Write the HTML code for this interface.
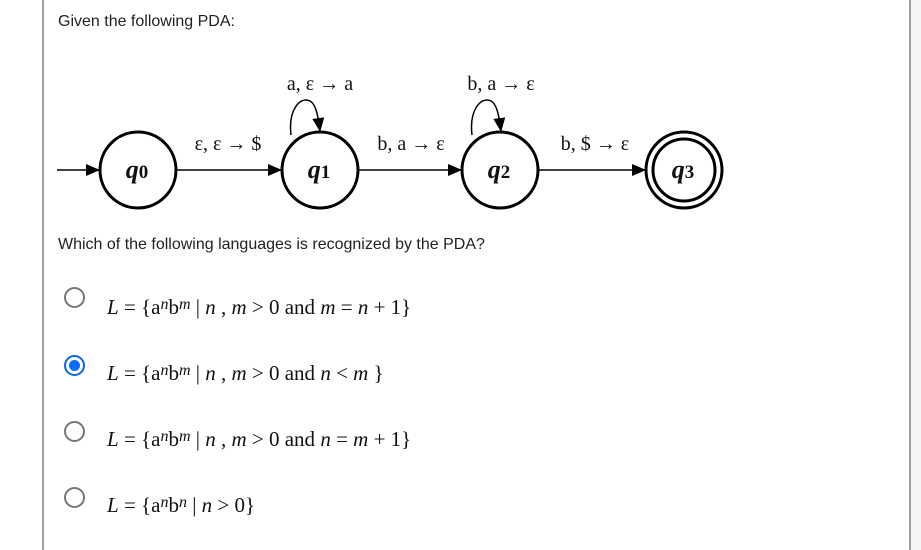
<!DOCTYPE html>
<html><head><meta charset="utf-8"><style>
html,body{margin:0;padding:0;background:#fff;width:921px;height:550px;overflow:hidden;position:relative}
.bl{position:absolute;left:42px;top:0;width:2px;height:550px;background:#a0a0a0}
.br{position:absolute;left:909px;top:0;width:2px;height:550px;background:#a0a0a0}
.rs{position:absolute;left:911px;top:0;width:10px;height:550px;background:#f6f6f6}
.t{position:absolute;font-family:"Liberation Sans",Arial,sans-serif;font-size:16px;color:#222}
.m{position:absolute;left:107px;font-family:"Liberation Serif",serif;font-size:21px;color:#111;white-space:nowrap}
.m i{font-style:italic}
.m sup{font-size:16px;font-style:italic;position:relative;top:-5px;vertical-align:baseline}
.r{position:absolute;left:64px;width:21px;height:21px;border:2px solid #767676;border-radius:50%;box-sizing:border-box}
.r.on{border-color:#0a66e4}
.r.on::after{content:"";position:absolute;left:3px;top:3px;width:11px;height:11px;border-radius:50%;background:#0a6cff}
</style></head><body>
<div class="bl"></div><div class="br"></div><div class="rs"></div>
<div class="t" style="left:58px;top:13px">Given the following PDA:</div>
<svg style="position:absolute;left:0;top:0" width="921" height="230">
<defs><marker id="a" markerWidth="14" markerHeight="12" refX="13" refY="6" orient="auto" markerUnits="userSpaceOnUse"><path d="M0,0 L14,6 L0,12 Z" fill="#000"/></marker></defs>
<g fill="none" stroke="#000">
<circle cx="138" cy="170" r="38" stroke-width="3"/>
<circle cx="320" cy="170" r="38" stroke-width="3"/>
<circle cx="500" cy="170" r="38" stroke-width="3"/>
<circle cx="684" cy="170" r="38" stroke-width="3"/>
<circle cx="684" cy="170" r="31" stroke-width="3"/>
<line x1="57" y1="170" x2="99" y2="170" stroke-width="1.5" marker-end="url(#a)"/>
<line x1="177" y1="170" x2="281" y2="170" stroke-width="1.5" marker-end="url(#a)"/>
<line x1="359" y1="170" x2="461" y2="170" stroke-width="1.5" marker-end="url(#a)"/>
<line x1="539" y1="170" x2="645" y2="170" stroke-width="1.5" marker-end="url(#a)"/>
<path d="M291,135 C288,110 300,96 310,101 C316,104 318,116 320,131" stroke-width="1.5" marker-end="url(#a)"/>
<path d="M472,135 C469,110 481,96 491,101 C497,104 499,116 501,131" stroke-width="1.5" marker-end="url(#a)"/>
</g>
<g font-family="Liberation Serif,serif" font-size="20" text-anchor="middle" fill="#111">
<text x="320" y="90">a, ε → a</text>
<text x="501" y="90">b, a → ε</text>
<text x="228" y="150">ε, ε → $</text>
<text x="411" y="150">b, a → ε</text>
<text x="595" y="150">b, $ → ε</text>
</g>
<g font-family="Liberation Serif,serif" font-size="26" font-weight="bold" font-style="italic" text-anchor="middle" fill="#111">
<text x="137" y="178">q<tspan font-size="19" font-style="normal">0</tspan></text>
<text x="319" y="178">q<tspan font-size="19" font-style="normal">1</tspan></text>
<text x="499" y="178">q<tspan font-size="19" font-style="normal">2</tspan></text>
<text x="683" y="178">q<tspan font-size="19" font-style="normal">3</tspan></text>
</g>
</svg>
<div class="t" style="left:58px;top:236px">Which of the following languages is recognized by the PDA?</div>
<div class="r" style="top:287px"></div>
<div class="r on" style="top:355px"></div>
<div class="r" style="top:421px"></div>
<div class="r" style="top:487px"></div>
<div class="m" style="top:295px"><i>L</i> = {a<sup>n</sup>b<sup>m</sup> | <i>n</i> , <i>m</i> &gt; 0 and <i>m</i> = <i>n</i> + 1}</div>
<div class="m" style="top:361px"><i>L</i> = {a<sup>n</sup>b<sup>m</sup> | <i>n</i> , <i>m</i> &gt; 0 and <i>n</i> &lt; <i>m</i> }</div>
<div class="m" style="top:427px"><i>L</i> = {a<sup>n</sup>b<sup>m</sup> | <i>n</i> , <i>m</i> &gt; 0 and <i>n</i> = <i>m</i> + 1}</div>
<div class="m" style="top:493px"><i>L</i> = {a<sup>n</sup>b<sup>n</sup> | <i>n</i> &gt; 0}</div>
</body></html>
